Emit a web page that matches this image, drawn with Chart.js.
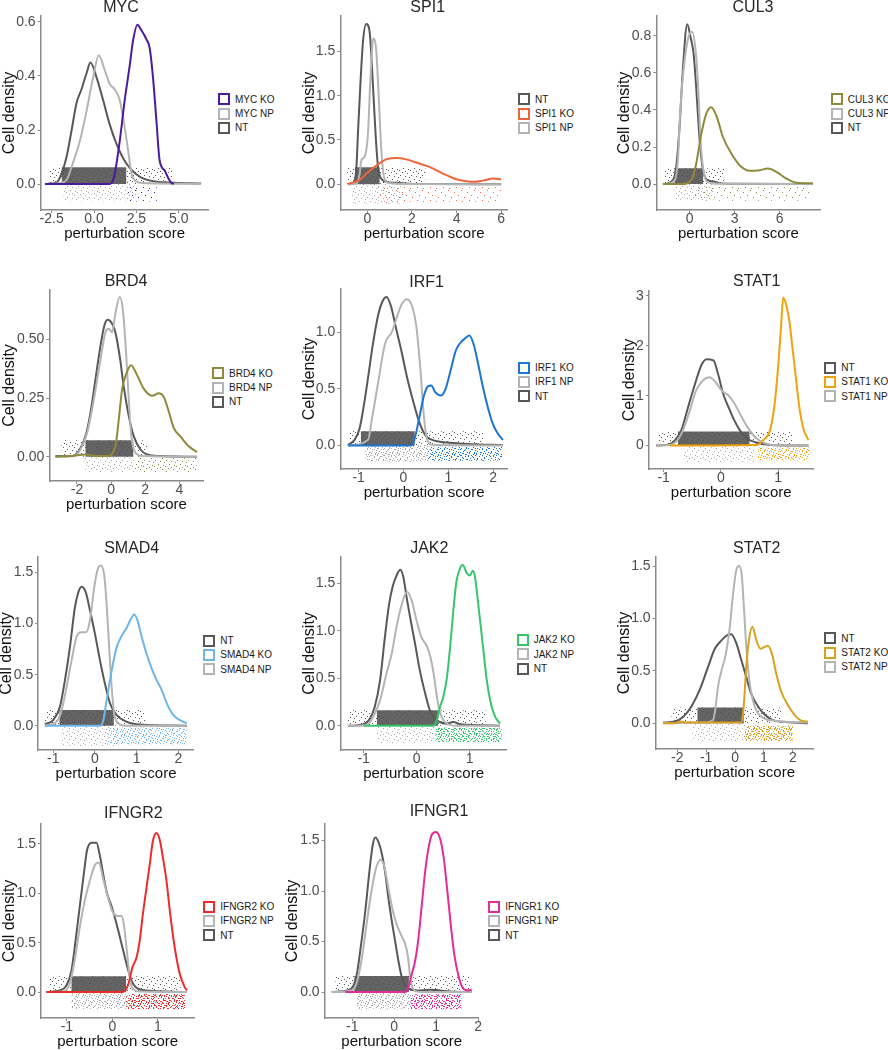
<!DOCTYPE html>
<html>
<head>
<meta charset="utf-8">
<script src="https://cdn.jsdelivr.net/npm/chart.js@4.4.1/dist/chart.umd.min.js"></script>
<style>
  html, body { margin: 0; padding: 0; background: #fff; }
  #page { position: relative; width: 888px; height: 1050px; overflow: hidden; font-family: "Liberation Sans", Arial, sans-serif; }
  #page canvas { position: absolute; }
  .ttl { position: absolute; width: 200px; text-align: center; font-size: 16px; font-weight: 400; line-height: 18px; color: #262626; }
  .lgd { position: absolute; font-size: 10px; color: #1a1a1a; }
  .lgd div { height: 14.3px; display: flex; align-items: center; white-space: nowrap; }
  .lgd .key { width: 12px; height: 12px; box-sizing: border-box; border: 2px solid; background: #fff; margin-right: 5px; }
</style>
</head>
<body>
<div id="page"></div>
<script>
// density curves, [score, density]
const MYC_NT = [[-2.7,0.002],[-2.2,0.006],[-1.91,0.04],[-1.62,0.10],[-1.32,0.20],[-1.03,0.30],[-0.74,0.35],[-0.44,0.41],[-0.21,0.45],[0.15,0.395],[0.54,0.31],[0.93,0.22],[1.32,0.15],[1.91,0.076],[2.7,0.027],[3.68,0.009],[4.66,0.005],[6.32,0.002]];
const MYC_NP = [[-2.7,0],[-2.0,0.004],[-1.62,0.015],[-1.32,0.064],[-0.83,0.16],[-0.44,0.27],[-0.05,0.395],[0.28,0.477],[0.64,0.42],[0.93,0.37],[1.23,0.35],[1.52,0.31],[1.81,0.21],[2.01,0.125],[2.21,0.04],[2.5,0.009],[3.1,0.003],[6.3,0.001]];
const MYC_KO = [[-2.9,0],[0.9,0],[1.05,0.005],[1.23,0.04],[1.52,0.16],[1.81,0.31],[2.11,0.44],[2.3,0.53],[2.56,0.59],[2.79,0.57],[3.09,0.536],[3.28,0.505],[3.48,0.395],[3.68,0.236],[3.87,0.088],[4.17,0.05],[4.4,0.02],[4.56,0.005],[4.7,0]];

const SPI1_NT = [[-0.87,0],[-0.6,0.02],[-0.49,0.18],[-0.42,0.57],[-0.31,1.13],[-0.19,1.62],[-0.05,1.81],[0.10,1.73],[0.25,1.13],[0.37,0.57],[0.48,0.195],[0.63,0.06],[0.85,0.026],[1.3,0.015],[1.9,0.005],[3.0,0.001],[6.0,0]];
const SPI1_NP = [[-0.87,0],[-0.5,0.005],[-0.34,0.12],[-0.27,0.27],[-0.12,0.31],[0.03,0.57],[0.13,1.13],[0.27,1.65],[0.40,1.51],[0.52,0.945],[0.63,0.38],[0.75,0.08],[0.93,0.015],[1.5,0.003],[6.0,0]];
const SPI1_KO = [[-0.87,0],[-0.57,0.026],[-0.34,0.05],[-0.04,0.12],[0.40,0.21],[0.85,0.28],[1.3,0.296],[1.75,0.28],[2.19,0.244],[2.79,0.195],[3.39,0.12],[3.99,0.056],[4.43,0.034],[4.81,0.026],[5.18,0.04],[5.63,0.064],[6.0,0.056]];

const CUL3_NT = [[-1.78,0],[-1.22,0.0125],[-0.89,0.093],[-0.67,0.31],[-0.44,0.63],[-0.16,0.863],[0.07,0.79],[0.27,0.70],[0.44,0.52],[0.67,0.236],[0.89,0.075],[1.22,0.021],[1.67,0.0125],[2.0,0.005],[3.0,0.001],[8.2,0]];
const CUL3_NP = [[-1.56,0],[-1.0,0.02],[-0.78,0.13],[-0.62,0.40],[-0.33,0.67],[0.0,0.81],[0.18,0.82],[0.4,0.72],[0.56,0.54],[0.73,0.236],[0.96,0.057],[1.33,0.007],[2.0,0.001],[8.2,0]];
const CUL3_KO = [[-1.78,0],[-0.5,0],[0,0.0125],[0.22,0.04],[0.44,0.11],[0.78,0.27],[1.11,0.38],[1.44,0.415],[1.78,0.37],[2.22,0.254],[2.78,0.165],[3.44,0.093],[4.0,0.072],[4.67,0.075],[5.22,0.084],[5.78,0.066],[6.44,0.03],[7.11,0.007],[8.22,0.004]];

const BRD4_NT = [[-3.26,0.003],[-2.29,0.003],[-1.89,0.024],[-1.5,0.087],[-1.21,0.186],[-0.92,0.327],[-0.63,0.468],[-0.39,0.56],[-0.2,0.583],[0.06,0.566],[0.25,0.53],[0.51,0.425],[0.74,0.30],[1.04,0.172],[1.33,0.087],[1.72,0.031],[2.11,0.01],[2.89,0.003],[5.04,0]];
const BRD4_NP = [[-3.26,0],[-2.19,0.003],[-1.8,0.03],[-1.41,0.10],[-1.02,0.24],[-0.63,0.41],[-0.33,0.53],[-0.14,0.545],[0.06,0.53],[0.25,0.61],[0.51,0.68],[0.7,0.62],[0.88,0.44],[1.04,0.24],[1.19,0.087],[1.43,0.017],[1.91,0.003],[5.04,0]];
const BRD4_KO = [[-3.26,0],[-2.3,0.003],[-1.5,0.01],[-0.8,0.003],[-0.23,0.003],[0.25,0.045],[0.45,0.158],[0.64,0.285],[0.9,0.355],[1.17,0.39],[1.52,0.348],[1.91,0.29],[2.4,0.26],[2.79,0.27],[3.09,0.254],[3.38,0.193],[3.67,0.123],[4.06,0.087],[4.55,0.045],[5.04,0.02]];

const IRF1_NT = [[-1.24,0.006],[-1.09,0.05],[-0.98,0.15],[-0.89,0.34],[-0.79,0.60],[-0.68,0.90],[-0.56,1.16],[-0.47,1.27],[-0.38,1.31],[-0.28,1.23],[-0.17,1.04],[-0.05,0.84],[0.08,0.60],[0.21,0.40],[0.34,0.22],[0.49,0.09],[0.64,0.05],[0.98,0.026],[1.35,0.015],[1.95,0.006],[2.22,0.003]];
const IRF1_NP = [[-1.24,0],[-0.79,0.05],[-0.71,0.22],[-0.56,0.57],[-0.41,0.90],[-0.26,1.0],[-0.15,1.13],[-0.04,1.245],[0.075,1.29],[0.19,1.23],[0.29,1.04],[0.38,0.66],[0.45,0.28],[0.53,0.05],[0.64,0.006],[2.22,0]];
const IRF1_KO = [[-1.24,0],[0.15,0],[0.23,0.035],[0.34,0.22],[0.45,0.43],[0.54,0.52],[0.62,0.53],[0.71,0.47],[0.83,0.44],[0.94,0.50],[1.05,0.66],[1.17,0.84],[1.28,0.91],[1.39,0.95],[1.47,0.97],[1.56,0.90],[1.65,0.75],[1.77,0.52],[1.88,0.34],[1.99,0.195],[2.1,0.108],[2.22,0.05]];

const STAT1_NT = [[-1.13,0],[-0.95,0.01],[-0.8,0.11],[-0.69,0.31],[-0.57,0.78],[-0.45,1.24],[-0.34,1.61],[-0.25,1.73],[-0.13,1.71],[-0.05,1.44],[0.04,1.04],[0.13,0.78],[0.22,0.54],[0.33,0.31],[0.45,0.146],[0.62,0.06],[0.86,0.013],[1.53,0]];
const STAT1_NP = [[-1.13,0],[-0.9,0.01],[-0.78,0.08],[-0.66,0.31],[-0.54,0.71],[-0.43,1.11],[-0.31,1.31],[-0.2,1.37],[-0.09,1.27],[0.01,1.11],[0.13,1.01],[0.24,0.84],[0.36,0.58],[0.48,0.345],[0.62,0.146],[0.77,0.046],[0.97,0.005],[1.53,0]];
const STAT1_KO = [[-0.89,0],[0.62,0.01],[0.74,0.11],[0.86,0.31],[0.94,0.84],[1.0,1.57],[1.05,2.37],[1.09,2.97],[1.14,2.83],[1.2,2.47],[1.25,1.97],[1.31,1.37],[1.37,0.78],[1.44,0.345],[1.53,0.11]];

const SMAD4_NT = [[-1.2,0.016],[-1.0,0.055],[-0.84,0.185],[-0.72,0.445],[-0.6,0.77],[-0.48,1.16],[-0.4,1.305],[-0.32,1.36],[-0.22,1.305],[-0.12,1.13],[0.0,0.90],[0.12,0.64],[0.24,0.41],[0.36,0.22],[0.52,0.104],[0.76,0.039],[1.08,0.013],[2.2,0]];
const SMAD4_NP = [[-1.2,0],[-0.92,0.04],[-0.8,0.15],[-0.68,0.38],[-0.56,0.64],[-0.44,0.87],[-0.32,0.915],[-0.22,0.915],[-0.12,1.03],[-0.02,1.35],[0.08,1.55],[0.14,1.57],[0.22,1.48],[0.28,1.19],[0.34,0.77],[0.4,0.38],[0.46,0.12],[0.56,0.023],[0.76,0],[2.2,0]];
const SMAD4_KO = [[-1.2,0],[0.12,0],[0.2,0.055],[0.28,0.25],[0.4,0.54],[0.52,0.77],[0.64,0.88],[0.76,0.96],[0.86,1.045],[0.94,1.09],[1.02,1.03],[1.12,0.87],[1.24,0.70],[1.36,0.56],[1.48,0.445],[1.6,0.35],[1.72,0.22],[1.88,0.104],[2.04,0.055],[2.2,0.023]];

const JAK2_NT = [[-1.29,0],[-1.0,0.017],[-0.88,0.077],[-0.79,0.2],[-0.69,0.48],[-0.6,0.93],[-0.52,1.28],[-0.45,1.47],[-0.38,1.58],[-0.31,1.64],[-0.25,1.56],[-0.19,1.35],[-0.11,1.1],[-0.03,0.86],[0.06,0.58],[0.16,0.34],[0.25,0.16],[0.38,0.06],[0.57,0.024],[0.69,0.04],[0.82,0.017],[1.19,0.007],[1.57,0]];
const JAK2_NP = [[-1.29,0],[-0.94,0.01],[-0.82,0.094],[-0.69,0.27],[-0.57,0.55],[-0.47,0.76],[-0.38,1.04],[-0.28,1.28],[-0.18,1.41],[-0.09,1.31],[0.0,1.1],[0.09,0.93],[0.19,0.84],[0.26,0.72],[0.33,0.51],[0.39,0.27],[0.47,0.094],[0.57,0.024],[0.75,0],[1.57,0]];
const JAK2_KO = [[-1.0,0],[0.31,0],[0.38,0.06],[0.44,0.2],[0.5,0.3],[0.57,0.51],[0.63,0.83],[0.69,1.21],[0.75,1.52],[0.82,1.66],[0.87,1.69],[0.94,1.61],[1.0,1.58],[1.06,1.63],[1.1,1.56],[1.16,1.28],[1.25,0.83],[1.32,0.48],[1.4,0.23],[1.48,0.094],[1.57,0.024]];

const STAT2_NT = [[-2.49,0.006],[-2.09,0.016],[-1.8,0.06],[-1.51,0.16],[-1.22,0.32],[-0.93,0.54],[-0.7,0.71],[-0.47,0.79],[-0.27,0.84],[-0.13,0.85],[0.05,0.76],[0.22,0.6],[0.39,0.44],[0.56,0.28],[0.8,0.16],[1.03,0.08],[1.31,0.03],[1.89,0.01],[2.52,0]];
const STAT2_NP = [[-2.49,0],[-1.1,0.006],[-0.76,0.03],[-0.67,0.16],[-0.59,0.35],[-0.47,0.5],[-0.32,0.66],[-0.18,0.92],[-0.07,1.23],[0.05,1.47],[0.14,1.5],[0.23,1.42],[0.3,1.14],[0.39,0.73],[0.51,0.38],[0.68,0.16],[0.91,0.063],[1.43,0.022],[2.52,0.006]];
const STAT2_KO = [[-2.49,0],[-2.1,0],[-1.86,0.016],[-1.69,0.006],[0.22,0.006],[0.3,0.16],[0.39,0.54],[0.48,0.79],[0.6,0.92],[0.74,0.79],[0.88,0.71],[1.03,0.73],[1.14,0.74],[1.29,0.65],[1.43,0.47],[1.6,0.3],[1.83,0.174],[2.06,0.079],[2.29,0.025],[2.52,0.016]];

const IFNGR2_NT = [[-1.45,0],[-1.16,0.017],[-1.01,0.067],[-0.9,0.22],[-0.81,0.52],[-0.72,0.86],[-0.63,1.19],[-0.56,1.43],[-0.46,1.51],[-0.35,1.51],[-0.28,1.39],[-0.19,1.16],[-0.12,1.0],[-0.02,0.87],[0.09,0.69],[0.2,0.49],[0.31,0.285],[0.42,0.117],[0.56,0.034],[0.75,0.017],[1.63,0]];
const IFNGR2_NP = [[-1.45,0],[-1.05,0.01],[-0.94,0.084],[-0.83,0.32],[-0.72,0.65],[-0.61,0.92],[-0.5,1.12],[-0.39,1.28],[-0.3,1.31],[-0.21,1.16],[-0.1,0.96],[0.01,0.805],[0.12,0.77],[0.2,0.77],[0.25,0.69],[0.31,0.45],[0.37,0.185],[0.43,0.05],[0.6,0.005],[1.63,0]];
const IFNGR2_KO = [[-1.45,0],[0.23,0],[0.34,0.067],[0.44,0.25],[0.53,0.35],[0.6,0.52],[0.67,0.79],[0.75,1.06],[0.82,1.29],[0.89,1.53],[0.97,1.61],[1.04,1.54],[1.11,1.36],[1.19,1.12],[1.27,0.79],[1.37,0.45],[1.48,0.185],[1.59,0.05],[1.64,0.017]];

const IFNGR1_NT = [[-1.49,0],[-1.13,0.016],[-0.99,0.05],[-0.89,0.18],[-0.8,0.44],[-0.69,0.8],[-0.59,1.2],[-0.51,1.46],[-0.45,1.53],[-0.37,1.48],[-0.29,1.36],[-0.21,1.165],[-0.14,0.935],[-0.06,0.71],[0.02,0.51],[0.1,0.31],[0.18,0.15],[0.3,0.05],[0.54,0.016],[0.86,0.023],[1.34,0.005],[1.85,0]];
const IFNGR1_NP = [[-1.49,0],[-1.01,0.016],[-0.89,0.1],[-0.77,0.34],[-0.65,0.7],[-0.53,1.03],[-0.43,1.23],[-0.33,1.31],[-0.24,1.25],[-0.14,1.03],[-0.03,0.8],[0.06,0.67],[0.17,0.56],[0.26,0.48],[0.33,0.345],[0.38,0.15],[0.45,0.033],[0.62,0],[1.85,0]];
const IFNGR1_KO = [[-1.17,0],[0.26,0],[0.34,0.05],[0.42,0.18],[0.5,0.31],[0.58,0.54],[0.66,0.87],[0.74,1.2],[0.82,1.43],[0.9,1.56],[1.0,1.585],[1.1,1.51],[1.18,1.33],[1.26,1.03],[1.34,0.705],[1.43,0.38],[1.54,0.15],[1.65,0.033],[1.77,0.016],[1.85,0.023]];

// jittered cell clouds as [xFrom, xTo, yFrom, yTo]: NT core, NT spread, NP, KO
const MYC_CELLS = [[-1.9,1.9,0,0.062],[-2.6,4.6,0,0.062],[-1.8,2.6,-0.065,0],[2.0,3.7,-0.065,-0.005]];
const SPI1_CELLS = [[-0.55,0.55,0,0.19],[-0.9,2.6,0,0.19],[-0.7,1.6,-0.22,0],[0.5,6.0,-0.2,-0.03]];
const CUL3_CELLS = [[-1.0,0.9,0,0.085],[-1.7,2.3,0,0.085],[-1.0,1.6,-0.09,0],[0.3,8.0,-0.09,-0.01]];
const BRD4_CELLS = [[-1.5,1.3,0,0.07],[-2.9,2.1,0,0.07],[-1.6,1.4,-0.065,0],[0.3,5.0,-0.065,-0.005]];
const IRF1_CELLS = [[-0.95,0.25,0,0.125],[-1.2,1.8,0,0.125],[-0.85,0.55,-0.14,0],[0.3,2.2,-0.135,-0.01]];
const STAT1_CELLS = [[-0.75,0.5,0,0.28],[-1.1,1.25,0,0.28],[-0.65,0.6,-0.33,0],[0.65,1.55,-0.3,-0.04]];
const SMAD4_CELLS = [[-0.85,0.45,0,0.155],[-1.2,1.2,0,0.155],[-0.8,0.5,-0.2,0],[0.3,2.2,-0.18,-0.02]];
const JAK2_CELLS = [[-0.75,0.4,0,0.165],[-1.3,1.3,0,0.165],[-0.75,0.35,-0.18,0],[0.35,1.6,-0.17,-0.02]];
const STAT2_CELLS = [[-1.3,0.3,0,0.15],[-2.2,1.6,0,0.15],[-1.5,0.5,-0.17,0],[0.35,2.0,-0.17,-0.02]];
const IFNGR2_CELLS = [[-0.9,0.3,0,0.16],[-1.4,1.5,0,0.16],[-0.9,0.35,-0.17,0],[0.3,1.6,-0.17,-0.02]];
const IFNGR1_CELLS = [[-0.95,0.35,0,0.16],[-1.4,1.8,0,0.16],[-0.9,0.4,-0.17,0],[0.4,1.6,-0.17,-0.02]];

// axis ranges and tick labels
const MYC_X = [-3.15, 6.76], MYC_Y = [-0.096, 0.622];
const MYC_XTICKS = ['-2.5', '0.0', '2.5', '5.0'], MYC_YTICKS = ['0.0', '0.2', '0.4', '0.6'];
const SPI1_X = [-1.21, 6.3], SPI1_Y = [-0.292, 1.90];
const SPI1_XTICKS = ['0', '2', '4', '6'], SPI1_YTICKS = ['0.0', '0.5', '1.0', '1.5'];
const CUL3_X = [-2.22, 8.73], CUL3_Y = [-0.14, 0.907];
const CUL3_XTICKS = ['0', '3', '6'], CUL3_YTICKS = ['0.0', '0.2', '0.4', '0.6', '0.8'];
const BRD4_X = [-3.62, 5.42], BRD4_Y = [-0.103, 0.71];
const BRD4_XTICKS = ['-2', '0', '2', '4'], BRD4_YTICKS = ['0.00', '0.25', '0.50'];
const IRF1_X = [-1.41, 2.33], IRF1_Y = [-0.207, 1.38];
const IRF1_XTICKS = ['-1', '0', '1', '2'], IRF1_YTICKS = ['0.0', '0.5', '1.0'];
const STAT1_X = [-1.257, 1.62], STAT1_Y = [-0.47, 3.1];
const STAT1_XTICKS = ['-1', '0', '1'], STAT1_YTICKS = ['0', '1', '2', '3'];
const SMAD4_X = [-1.36, 2.37], SMAD4_Y = [-0.237, 1.652];
const SMAD4_XTICKS = ['-1', '0', '1', '2'], SMAD4_YTICKS = ['0.0', '0.5', '1.0', '1.5'];
const JAK2_X = [-1.44, 1.70], JAK2_Y = [-0.254, 1.775];
const JAK2_XTICKS = ['-1', '0', '1'], JAK2_YTICKS = ['0.0', '0.5', '1.0', '1.5'];
const STAT2_X = [-2.75, 2.72], STAT2_Y = [-0.246, 1.586];
const STAT2_XTICKS = ['-2', '-1', '0', '1', '2'], STAT2_YTICKS = ['0.0', '0.5', '1.0', '1.5'];
const IFNGR2_X = [-1.57, 1.80], IFNGR2_Y = [-0.262, 1.70];
const IFNGR2_XTICKS = ['-1', '0', '1'], IFNGR2_YTICKS = ['0.0', '0.5', '1.0', '1.5'];
const IFNGR1_X = [-1.66, 2.02], IFNGR1_Y = [-0.256, 1.663];
const IFNGR1_XTICKS = ['-1', '0', '1', '2'], IFNGR1_YTICKS = ['0.0', '0.5', '1.0', '1.5'];

// legend order as in each panel
const MYC_KEYS = ['MYC KO', 'MYC NP', 'NT'];
const SPI1_KEYS = ['NT', 'SPI1 KO', 'SPI1 NP'];
const CUL3_KEYS = ['CUL3 KO', 'CUL3 NP', 'NT'];
const BRD4_KEYS = ['BRD4 KO', 'BRD4 NP', 'NT'];
const IRF1_KEYS = ['IRF1 KO', 'IRF1 NP', 'NT'];
const STAT1_KEYS = ['NT', 'STAT1 KO', 'STAT1 NP'];
const SMAD4_KEYS = ['NT', 'SMAD4 KO', 'SMAD4 NP'];
const JAK2_KEYS = ['JAK2 KO', 'JAK2 NP', 'NT'];
const STAT2_KEYS = ['NT', 'STAT2 KO', 'STAT2 NP'];
const IFNGR2_KEYS = ['IFNGR2 KO', 'IFNGR2 NP', 'NT'];
const IFNGR1_KEYS = ['IFNGR1 KO', 'IFNGR1 NP', 'NT'];

const FONT = '"Liberation Sans", Arial, sans-serif';
const NT_COL = '#585858';
const NP_COL = '#b4b4b4';
const AXIS_COL = '#8a8a8a';

// speckle tiles for the point clouds; mixing tile sizes breaks up the repeat
const T5 = { size: 5, dots: [[1,1],[3,3],[4,0]] };
const T7 = { size: 7, dots: [[0,0],[4,1],[2,3],[6,4],[1,5],[5,6]] };
const T11 = { size: 11, dots: [[3,0],[8,1],[1,3],[6,4],[10,5],[4,7],[9,8],[0,9],[6,10]] };
const T13 = { size: 13, dots: [[5,1],[11,3],[2,6],[8,8],[0,11],[6,12]] };
const KINDS = { rare: [T13], sparse: [T11], medium: [T7, T11], dense: [T5, T7, T11] };

function speckle(color, kind) {
  const layers = KINDS[kind];
  const gcd = (a, b) => b ? gcd(b, a % b) : a;
  const size = layers.reduce((m, t) => m * t.size / gcd(m, t.size), 1);
  const c = document.createElement('canvas');
  c.width = c.height = size;
  const g = c.getContext('2d');
  g.fillStyle = color;
  layers.forEach(t => {
    for (let ox = 0; ox < size; ox += t.size)
      for (let oy = 0; oy < size; oy += t.size)
        t.dots.forEach(([x, y]) => g.fillRect(ox + x, oy + y, 1, 1));
  });
  return g.createPattern(c, 'repeat');
}

// page layout: plot box [left, top, right, bottom], y-axis block width, title centre, legend anchor
const panels = [
  { nt: MYC_NT, np: MYC_NP, ko: MYC_KO, cells: MYC_CELLS, x: MYC_X, y: MYC_Y, xt: MYC_XTICKS, yt: MYC_YTICKS, keys: MYC_KEYS, title: 'MYC',
    color: '#4b1a9e', npKind: 'sparse', koKind: 'rare', box: [41, 15, 209, 210], yw: 40.6, tpos: [121, 7], kpos: [218, 99.3] },
  { nt: SPI1_NT, np: SPI1_NP, ko: SPI1_KO, cells: SPI1_CELLS, x: SPI1_X, y: SPI1_Y, xt: SPI1_XTICKS, yt: SPI1_YTICKS, keys: SPI1_KEYS, title: 'SPI1',
    color: '#f0643c', npKind: 'sparse', koKind: 'rare', box: [340.7, 15, 508.3, 210], yw: 40.3, tpos: [427.7, 7.3], kpos: [518, 99.3] },
  { nt: CUL3_NT, np: CUL3_NP, ko: CUL3_KO, cells: CUL3_CELLS, x: CUL3_X, y: CUL3_Y, xt: CUL3_XTICKS, yt: CUL3_YTICKS, keys: CUL3_KEYS, title: 'CUL3',
    color: '#8e8a3c', npKind: 'sparse', koKind: 'rare', box: [656.7, 15, 821, 210], yw: 41.3, tpos: [753, 7.3], kpos: [830.7, 99.3] },
  { nt: BRD4_NT, np: BRD4_NP, ko: BRD4_KO, cells: BRD4_CELLS, x: BRD4_X, y: BRD4_Y, xt: BRD4_XTICKS, yt: BRD4_YTICKS, keys: BRD4_KEYS, title: 'BRD4',
    color: '#8e8a3c', npKind: 'sparse', koKind: 'sparse', box: [49, 289.3, 203.3, 481.7], yw: 49.3, tpos: [126, 280.7], kpos: [212, 373.3] },
  { nt: IRF1_NT, np: IRF1_NP, ko: IRF1_KO, cells: IRF1_CELLS, x: IRF1_X, y: IRF1_Y, xt: IRF1_XTICKS, yt: IRF1_YTICKS, keys: IRF1_KEYS, title: 'IRF1',
    color: '#1a76d2', npKind: 'medium', koKind: 'medium', box: [340.7, 288.3, 508.3, 469.3], yw: 40.3, tpos: [426.7, 281.7], kpos: [518, 367.7] },
  { nt: STAT1_NT, np: STAT1_NP, ko: STAT1_KO, cells: STAT1_CELLS, x: STAT1_X, y: STAT1_Y, xt: STAT1_XTICKS, yt: STAT1_YTICKS, keys: STAT1_KEYS, title: 'STAT1',
    color: '#f0a20c', npKind: 'sparse', koKind: 'medium', box: [649.3, 290, 814, 469.3], yw: 28.9, tpos: [756.7, 280.7], kpos: [824.3, 367.7] },
  { nt: SMAD4_NT, np: SMAD4_NP, ko: SMAD4_KO, cells: SMAD4_CELLS, x: SMAD4_X, y: SMAD4_Y, xt: SMAD4_XTICKS, yt: SMAD4_YTICKS, keys: SMAD4_KEYS, title: 'SMAD4',
    color: '#6cb6ea', npKind: 'sparse', koKind: 'medium', box: [38.3, 556, 194, 750], yw: 41.2, tpos: [131.7, 548.3], kpos: [203.3, 640.7] },
  { nt: JAK2_NT, np: JAK2_NP, ko: JAK2_KO, cells: JAK2_CELLS, x: JAK2_X, y: JAK2_Y, xt: JAK2_XTICKS, yt: JAK2_YTICKS, keys: JAK2_KEYS, title: 'JAK2',
    color: '#36c46c', npKind: 'sparse', koKind: 'dense', box: [340.7, 556, 507.3, 750], yw: 40.3, tpos: [429.3, 548.3], kpos: [516.7, 640] },
  { nt: STAT2_NT, np: STAT2_NP, ko: STAT2_KO, cells: STAT2_CELLS, x: STAT2_X, y: STAT2_Y, xt: STAT2_XTICKS, yt: STAT2_YTICKS, keys: STAT2_KEYS, title: 'STAT2',
    color: '#d9a01e', npKind: 'sparse', koKind: 'dense', box: [656, 556, 814, 749.3], yw: 40.6, tpos: [756.7, 548.3], kpos: [824.3, 638.3] },
  { nt: IFNGR2_NT, np: IFNGR2_NP, ko: IFNGR2_KO, cells: IFNGR2_CELLS, x: IFNGR2_X, y: IFNGR2_Y, xt: IFNGR2_XTICKS, yt: IFNGR2_YTICKS, keys: IFNGR2_KEYS, title: 'IFNGR2',
    color: '#ee2b2b', npKind: 'medium', koKind: 'dense', box: [40.7, 822.7, 194, 1017.7], yw: 41, tpos: [133.3, 813.3], kpos: [203.3, 906.7] },
  { nt: IFNGR1_NT, np: IFNGR1_NP, ko: IFNGR1_KO, cells: IFNGR1_CELLS, x: IFNGR1_X, y: IFNGR1_Y, xt: IFNGR1_XTICKS, yt: IFNGR1_YTICKS, keys: IFNGR1_KEYS, title: 'IFNGR1',
    color: '#e52b98', npKind: 'medium', koKind: 'dense', box: [325, 822.7, 479.3, 1017.7], yw: 41.6, tpos: [439, 811], kpos: [488.3, 906.7] }
];

const page = document.getElementById('page');
const PAD_TOP = 8, PAD_RIGHT = 6, X_BLOCK = 33;

const toXY = arr => arr.map(([x, y]) => ({ x, y }));
const rect = ([x0, x1, y0, y1]) => [{x: x0, y: y0}, {x: x1, y: y0}, {x: x1, y: y1}, {x: x0, y: y1}, {x: x0, y: y0}];

function curve(data, color) {
  return { data: toXY(data), showLine: true, borderColor: color, borderWidth: 2, pointRadius: 0,
           cubicInterpolationMode: 'monotone', fill: false };
}
function cloud(box, fillStyle) {
  return { data: rect(box), showLine: true, borderColor: 'rgba(0,0,0,0)', borderWidth: 0, pointRadius: 0,
           tension: 0, fill: 'shape', backgroundColor: fillStyle };
}

function axis(range, labels, pad, extra) {
  return Object.assign({
    type: 'linear', min: range[0], max: range[1],
    afterBuildTicks: s => { s.ticks = labels.map(l => ({ value: parseFloat(l) })); },
    ticks: { callback: (v, i) => labels[i], autoSkip: false, maxRotation: 0, color: '#4d4d4d', padding: pad,
             font: { family: FONT, size: 14, lineHeight: 1 } },
    grid: { display: true, drawOnChartArea: false, drawTicks: true, tickLength: 3, color: AXIS_COL },
    border: { display: true, color: AXIS_COL, width: 1.5 }
  }, extra);
}

panels.forEach(p => {
  const [L, T, R, B] = p.box;
  const w = p.yw + (R - L) + PAD_RIGHT;
  const h = PAD_TOP + (B - T) + X_BLOCK;

  const cv = document.createElement('canvas');
  cv.width = Math.round(w); cv.height = Math.round(h);
  cv.style.left = (L - p.yw) + 'px';
  cv.style.top = (T - PAD_TOP) + 'px';
  cv.style.width = Math.round(w) + 'px';
  cv.style.height = Math.round(h) + 'px';
  page.appendChild(cv);

  const [ntCore, ntSpread, npCells, koCells] = p.cells;
  const datasets = [
    curve(p.ko, p.color),
    curve(p.np, NP_COL),
    curve(p.nt, NT_COL),
    cloud(ntCore, 'rgba(78,78,78,0.88)'),
    cloud(ntSpread, speckle(NT_COL, 'sparse')),
    cloud(npCells, speckle('#a8a8a8', p.npKind)),
    cloud(koCells, speckle(p.color, p.koKind))
  ];

  new Chart(cv, {
    type: 'scatter',
    data: { datasets },
    options: {
      responsive: false,
      animation: false,
      devicePixelRatio: 1,
      layout: { padding: { top: PAD_TOP, right: PAD_RIGHT + (Math.round(w) - w), left: 0, bottom: 0 } },
      plugins: { legend: { display: false }, title: { display: false }, tooltip: { enabled: false } },
      scales: {
        x: axis(p.x, p.xt, -1, {
          afterFit: s => { s.height = X_BLOCK; },
          title: { display: true, text: 'perturbation score', color: '#111', font: { family: FONT, size: 15 }, padding: 0 }
        }),
        y: axis(p.y, p.yt, 2, {
          afterFit: s => { s.width = p.yw; },
          title: { display: true, text: 'Cell density', color: '#111', font: { family: FONT, size: 16 }, padding: 0 }
        })
      }
    }
  });

  const t = document.createElement('div');
  t.className = 'ttl';
  t.textContent = p.title;
  t.style.left = (p.tpos[0] - 100) + 'px';
  t.style.top = (p.tpos[1] - 9) + 'px';
  page.appendChild(t);

  const lg = document.createElement('div');
  lg.className = 'lgd';
  lg.style.left = p.kpos[0] + 'px';
  lg.style.top = (p.kpos[1] - 7.15) + 'px';
  p.keys.forEach(k => {
    const row = document.createElement('div');
    const key = document.createElement('span');
    key.className = 'key';
    key.style.borderColor = k.endsWith('KO') ? p.color : (k.endsWith('NP') ? NP_COL : NT_COL);
    const txt = document.createElement('span');
    txt.textContent = k;
    row.appendChild(key); row.appendChild(txt);
    lg.appendChild(row);
  });
  page.appendChild(lg);
});
</script>
</body>
</html>
